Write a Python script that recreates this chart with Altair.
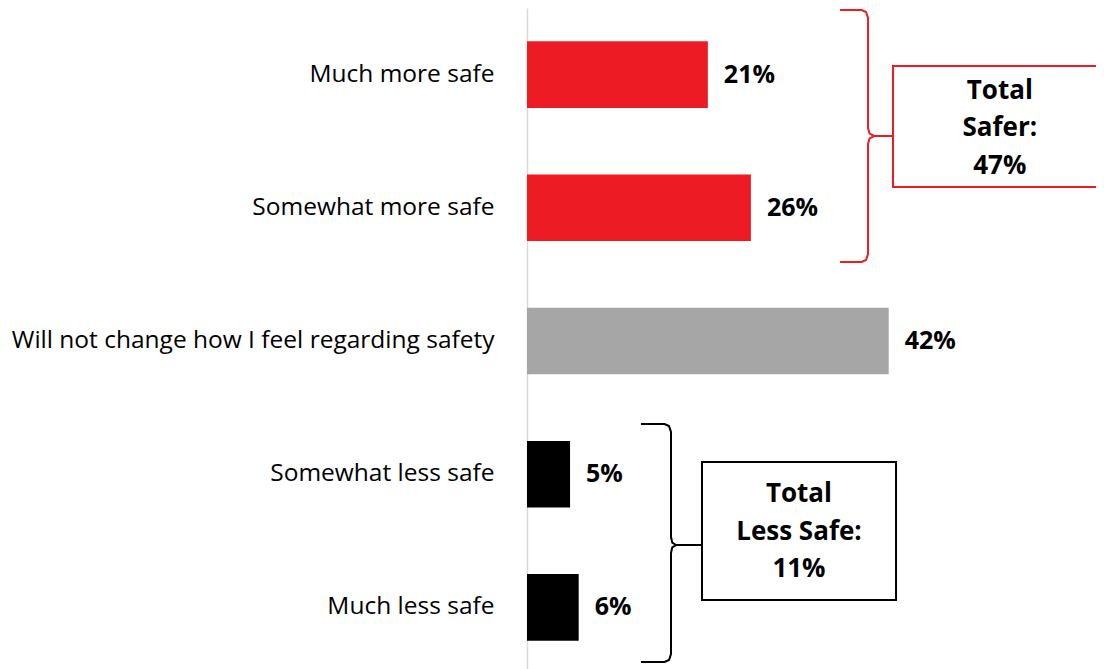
import altair as alt
import pandas as pd

# ---- data ----
categories = [
    "Much more safe",
    "Somewhat more safe",
    "Will not change how I feel regarding safety",
    "Somewhat less safe",
    "Much less safe",
]
values = [21, 26, 42, 5, 6]
bar_colors = ["#ED1C24", "#ED1C24", "#A6A6A6", "#000000", "#000000"]
value_labels = ["21%", "26%", "42%", "5%", "6%"]

group_texts = ["Total\nSafer:\n47%", "Total\nLess Safe:\n11%"]
group_colors = ["#ED1C24", "#000000"]
# bracket geometry in data units (x: percent, y: row index 0..5)
br_left = [36.35, 13.24]
br_spine = [39.6, 16.72]
br_tip = [40.3, 17.3]
box_left = [42.5, 20.32]
box_right = [70.0, 42.85]
br_top = [0.015, 3.123]
br_mid = [0.961, 4.032]
br_bot = [1.907, 4.91]
box_top = [0.435, 3.408]
box_bot = [1.344, 4.444]
text_x = [54.9, 31.58]
text_y = [0.623, 3.649]   # first text line

PX_PER_PCT = 8.612
W, H = 569, 661
XMAX = W / PX_PER_PCT
RANGE_H = 666
PX = 1 / PX_PER_PCT    # percent per pixel
PY = 5 / RANGE_H       # rows per pixel

df = pd.DataFrame({"cat": categories, "val": values, "color": bar_colors, "lab": value_labels})

# bracket paths
rows = []
for g in range(2):
    rx, ry = 8 * PX, 8 * PY
    xl, xs, xt, xb = br_left[g], br_spine[g], br_tip[g], box_left[g]
    yt, ym, yb = br_top[g], br_mid[g], br_bot[g]
    pts = [
        (xl, yt), (xs - 0.8 * rx, yt), (xs - 0.25 * rx, yt + 0.25 * ry), (xs, yt + ry),
        (xs, ym - ry), (xs + 0.25 * (xt - xs), ym - 0.3 * ry), (xt, ym), (xb, ym),
        (xt, ym), (xs + 0.25 * (xt - xs), ym + 0.3 * ry), (xs, ym + ry),
        (xs, yb - ry), (xs - 0.25 * rx, yb - 0.25 * ry), (xs - 0.8 * rx, yb), (xl, yb),
    ]
    for i, (x, y) in enumerate(pts):
        rows.append({"g": g, "o": i, "x": x, "y": y, "color": group_colors[g]})
br_df = pd.DataFrame(rows)

box_df = pd.DataFrame({
    "x": box_left, "x2": box_right, "y": box_top, "y2": box_bot,
    "color": group_colors, "t": group_texts, "tx": text_x, "ty": text_y,
})

xscale = alt.Scale(domain=[0, XMAX], nice=False, zero=True)
rowscale = alt.Scale(domain=[0, 5], range=[0, RANGE_H], nice=False, zero=False)

yaxis = alt.Axis(
    labelFont="Open Sans", labelFontSize=24.5, labelColor="#000000", labelLimit=700,
    labelPadding=33, ticks=False, domainColor="#D9D9D9", domainWidth=1.5, grid=False,
)
bandscale = alt.Scale(paddingInner=0.5, paddingOuter=0.25, range=[0, RANGE_H])

bars = alt.Chart(df).mark_bar().encode(
    x=alt.X("val:Q", scale=xscale, axis=None),
    y=alt.Y("cat:N", sort=categories, title=None, scale=bandscale, axis=yaxis),
    color=alt.Color("color:N", scale=None),
)

labels = alt.Chart(df).mark_text(
    align="left", baseline="middle", dx=16, font="Open Sans", fontSize=25, fontWeight="bold", color="#000000"
).encode(
    x=alt.X("val:Q", scale=xscale, axis=None),
    y=alt.Y("cat:N", sort=categories, title=None, scale=bandscale, axis=yaxis),
    text="lab:N",
)

brackets = alt.Chart(br_df).mark_line(strokeWidth=2, interpolate="linear").encode(
    x=alt.X("x:Q", scale=xscale, axis=None),
    y=alt.Y("y:Q", scale=rowscale, axis=None),
    detail="g:N",
    order="o:Q",
    color=alt.Color("color:N", scale=None),
)

boxes = alt.Chart(box_df).mark_rect(fill="white", strokeWidth=2, clip=True).encode(
    x=alt.X("x:Q", scale=xscale, axis=None),
    x2="x2:Q",
    y=alt.Y("y:Q", scale=rowscale, axis=None),
    y2="y2:Q",
    stroke=alt.Color("color:N", scale=None),
)

box_text = alt.Chart(box_df).mark_text(
    align="center", baseline="middle", lineBreak="\n", lineHeight=37.5,
    font="Open Sans", fontSize=26, fontWeight="bold", color="#000000",
).encode(
    x=alt.X("tx:Q", scale=xscale, axis=None),
    y=alt.Y("ty:Q", scale=rowscale, axis=None),
    text="t:N",
)

bar_layer = alt.layer(bars, labels)
ann_layer = alt.layer(brackets, boxes, box_text)

chart = alt.layer(bar_layer, ann_layer).resolve_scale(y="independent").properties(
    width=W, height=H,
    autosize=alt.AutoSizeParams(type="none"),
    padding={"left": 519, "top": 0, "right": 0, "bottom": 0},
).configure_view(stroke=None)

chart.save("out.html", embed_options={"renderer": "svg", "actions": False})
